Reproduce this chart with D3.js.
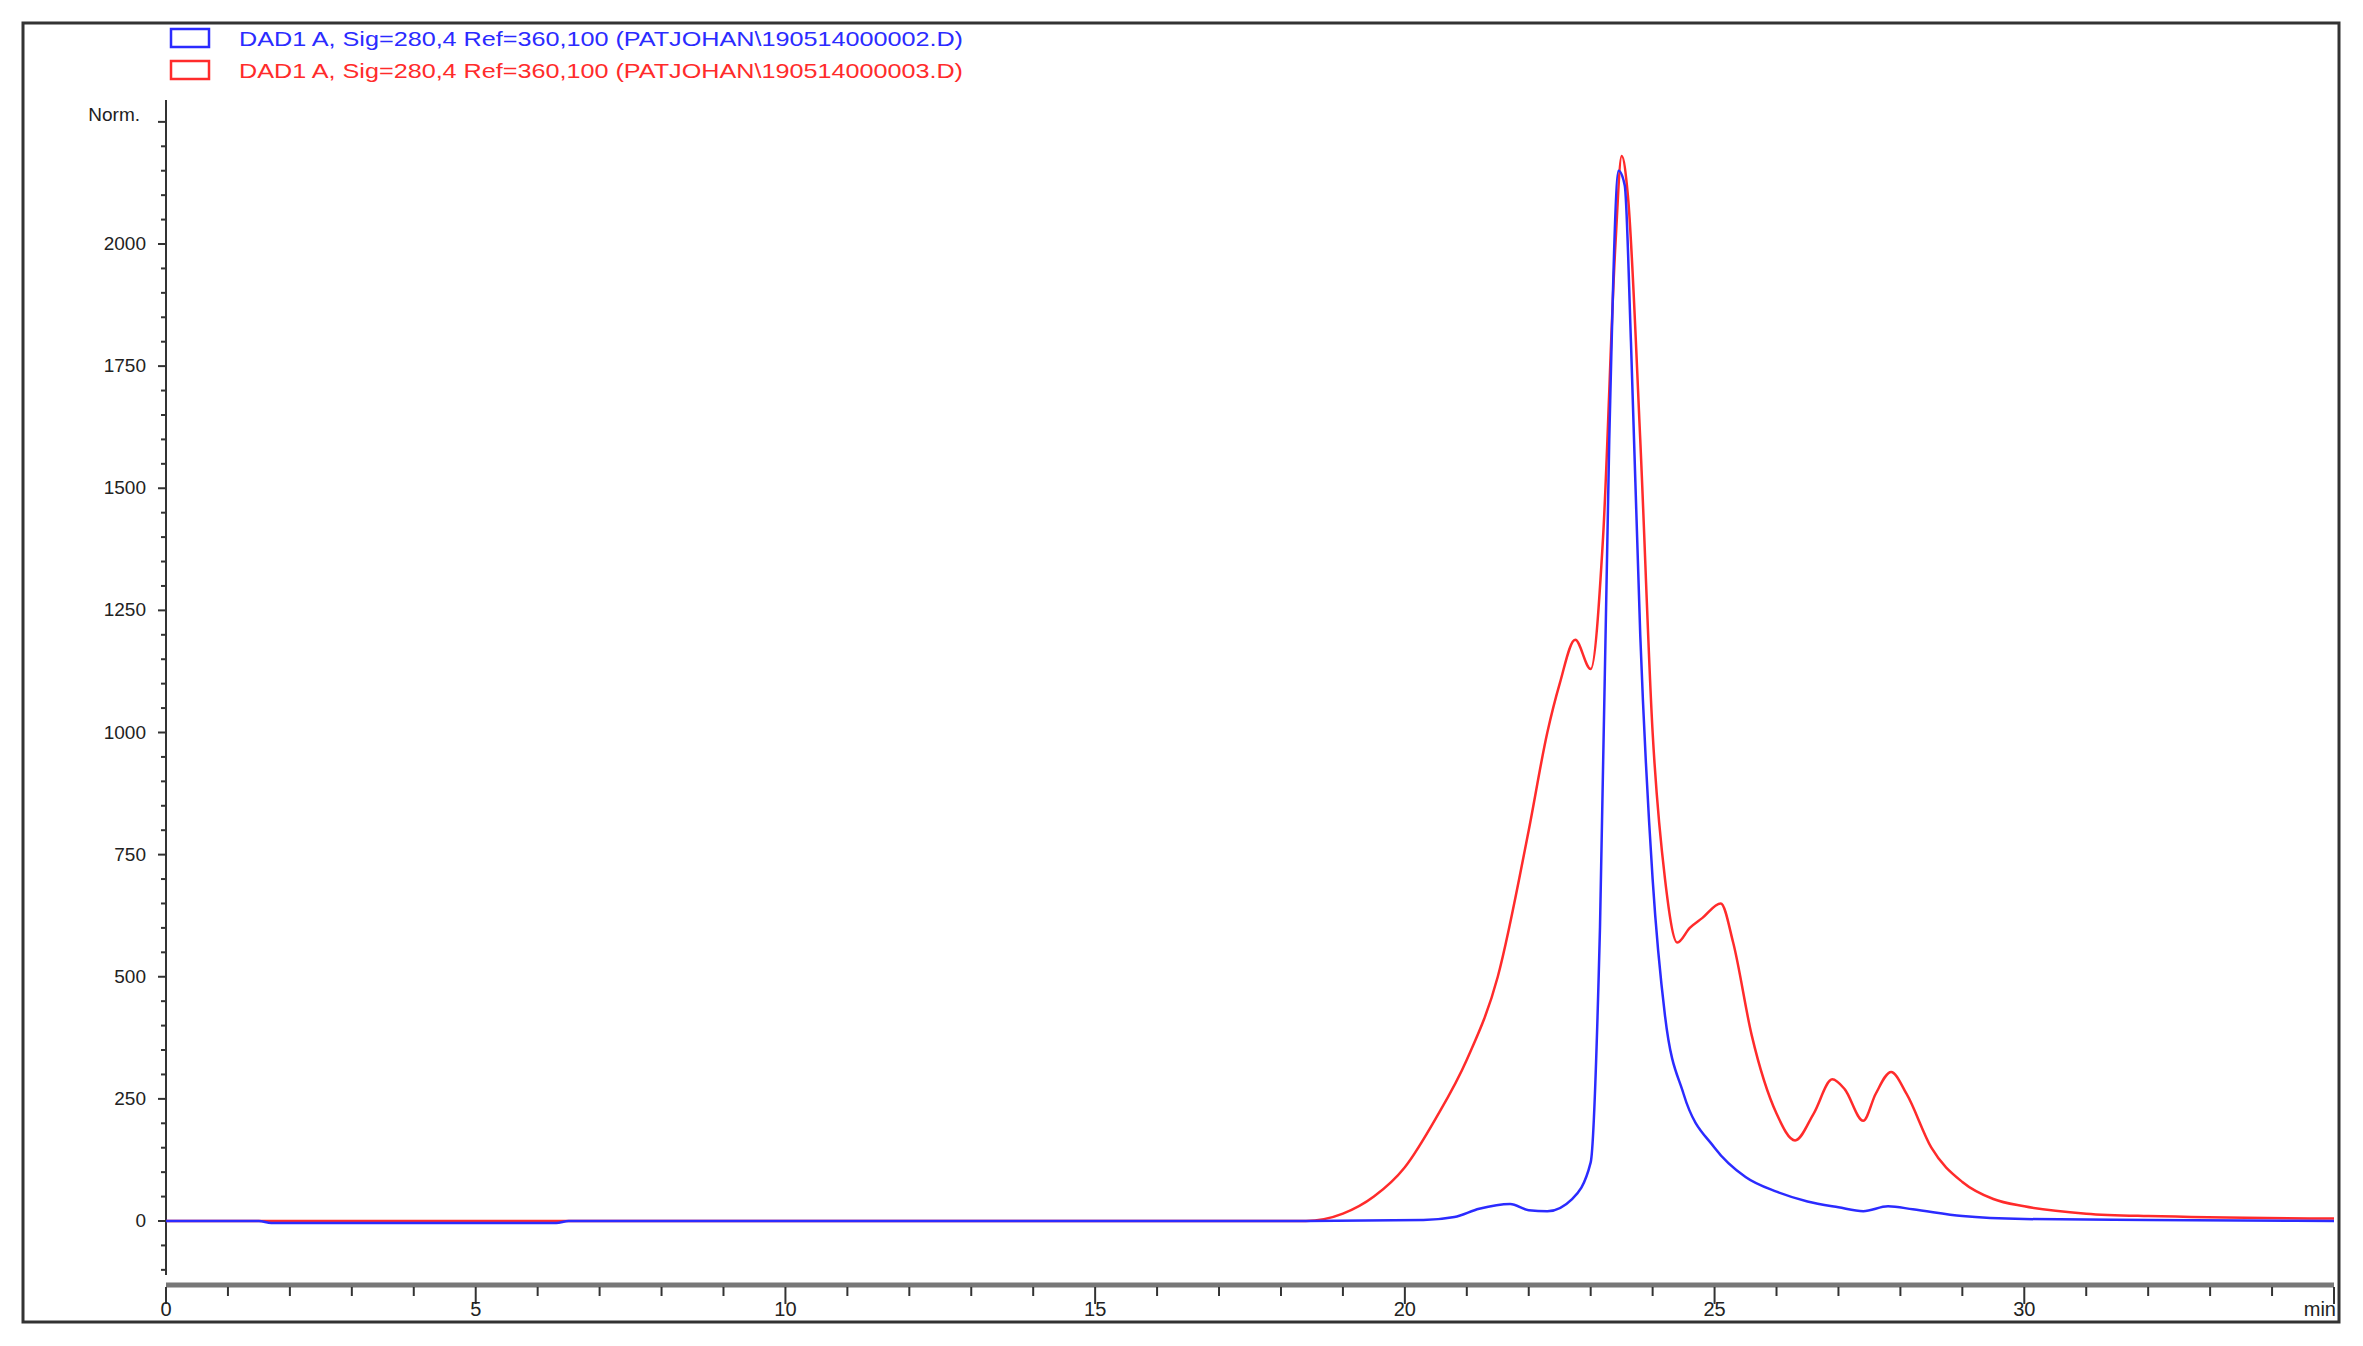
<!DOCTYPE html>
<html><head><meta charset="utf-8">
<script src="https://cdn.jsdelivr.net/npm/d3@7"></script>
<style>body{margin:0;background:#fff}svg{display:block}text{font-family:"Liberation Sans",Arial,sans-serif}</style>
</head><body><svg id="c" width="2363" height="1346"></svg>
<script>
const legendLabels=["DAD1 A, Sig=280,4 Ref=360,100 (PATJOHAN\\190514000002.D)","DAD1 A, Sig=280,4 Ref=360,100 (PATJOHAN\\190514000003.D)"];
const colors=["#2b2bff","#ff2b2b"];
const blueT=[0,1.5,1.7,6.3,6.5,18,20.3,20.8,21.2,21.7,22.0,22.3,22.7,23.0,23.15,23.3,23.45,23.55,23.65,23.8,24.0,24.2,24.5,25,25.5,26,26.5,27,27.4,27.8,28.2,29,30,32,35];
const blueV=[0,0,-4,-4,0,0,2,8,25,35,22,20,45,120,600,1600,2150,2120,1800,1200,700,420,260,150,90,60,40,28,20,30,24,10,4,2,0];
const redT=[0,18.4,19,19.5,20,20.5,21,21.5,22,22.3,22.5,22.75,23.0,23.2,23.4,23.5,23.6,23.8,24.0,24.2,24.4,24.6,24.8,25.1,25.3,25.6,26,26.3,26.6,26.9,27.1,27.4,27.6,27.85,28.1,28.5,29,29.5,30,31,32,35];
const redV=[0,0,15,50,110,210,330,500,800,1000,1100,1190,1130,1400,2000,2180,2100,1600,1000,700,570,600,620,650,570,380,220,165,220,290,270,205,260,305,260,150,80,45,30,15,10,5];
const yTicks=[0,250,500,750,1000,1250,1500,1750,2000];
const xTicks=[0,5,10,15,20,25,30];
const svg=d3.select("#c");
svg.append("rect").attr("x",23).attr("y",23).attr("width",2316).attr("height",1299).attr("fill","none").attr("stroke","#333").attr("stroke-width",3);
const x=d3.scaleLinear().domain([0,35]).range([166,2334]);
const y=d3.scaleLinear().domain([0,2000]).range([1221,244]);
svg.append("line").attr("x1",166).attr("x2",166).attr("y1",100).attr("y2",1275).attr("stroke","#333").attr("stroke-width",2);
d3.range(-250,2251,50).forEach(v=>{const yy=y(v);if(yy<100||yy>1275)return;const major=v%250===0;
 svg.append("line").attr("x1",major?158:161).attr("x2",166).attr("y1",yy).attr("y2",yy).attr("stroke","#333").attr("stroke-width",2);});
yTicks.forEach(v=>svg.append("text").attr("x",146).attr("y",y(v)+6).attr("text-anchor","end").attr("font-size",19).attr("fill","#222").text(v));
svg.append("text").attr("x",140).attr("y",121).attr("text-anchor","end").attr("font-size",19).attr("fill","#222").text("Norm.");
svg.append("line").attr("x1",166).attr("x2",2334).attr("y1",1285).attr("y2",1285).attr("stroke","#777").attr("stroke-width",5);
d3.range(0,35.01,1).forEach(v=>{const major=v%5===0;svg.append("line").attr("x1",x(v)).attr("x2",x(v)).attr("y1",1287).attr("y2",major?1304:1296).attr("stroke","#333").attr("stroke-width",2);});
xTicks.forEach(v=>svg.append("text").attr("x",x(v)).attr("y",1316).attr("text-anchor","middle").attr("font-size",20).attr("fill","#222").text(v));
svg.append("text").attr("x",2336).attr("y",1316).attr("text-anchor","end").attr("font-size",20).attr("fill","#222").text("min");
const line=d3.line().x(d=>x(d[0])).y(d=>y(d[1])).curve(d3.curveMonotoneX);
svg.append("path").attr("d",line(redT.map((t,i)=>[t,redV[i]]))).attr("fill","none").attr("stroke",colors[1]).attr("stroke-width",2.5);
svg.append("path").attr("d",line(blueT.map((t,i)=>[t,blueV[i]]))).attr("fill","none").attr("stroke",colors[0]).attr("stroke-width",2.5);
legendLabels.forEach((l,i)=>{const ly=38+i*32;
 svg.append("rect").attr("x",171).attr("y",ly-9).attr("width",38).attr("height",18).attr("fill","none").attr("stroke",colors[i]).attr("stroke-width",2.5);
 svg.append("text").attr("x",239).attr("y",ly+8).attr("font-size",21).attr("textLength",724).attr("lengthAdjust","spacingAndGlyphs").attr("fill",colors[i]).text(l);});
</script></body></html>
